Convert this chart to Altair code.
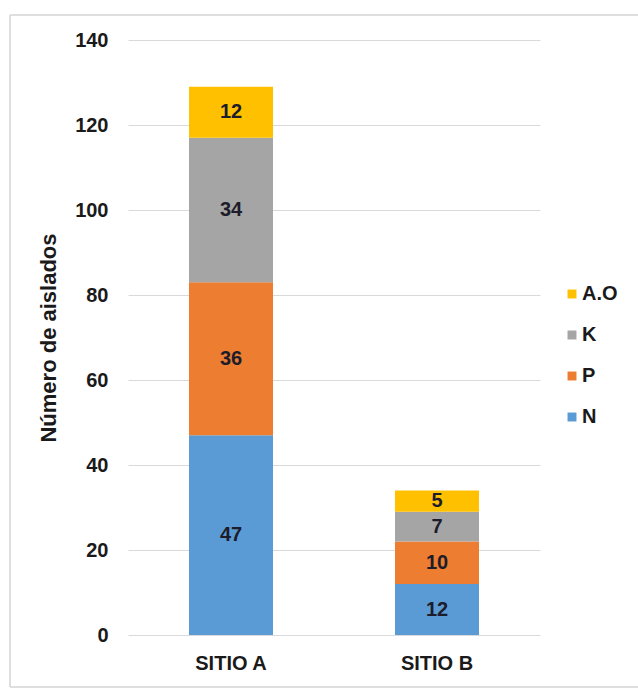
import altair as alt
import pandas as pd

# Isolate counts per site and group
sites = ["SITIO A", "SITIO B"]
groups = ["N", "P", "K", "A.O"]
counts_a = [47, 36, 34, 12]
counts_b = [12, 10, 7, 5]
colors = ["#5B9BD5", "#ED7D31", "#A5A5A5", "#FFC000"]
legend_order = ["A.O", "K", "P", "N"]

rows = []
for site, vals in zip(sites, [counts_a, counts_b]):
    for order, (g, v) in enumerate(zip(groups, vals)):
        rows.append({"sitio": site, "grupo": g, "valor": v, "orden": order})
df = pd.DataFrame(rows)

FONT = "Liberation Sans"
TXT = "#1a1a1a"

x_enc = alt.X(
    "sitio:N",
    sort=sites,
    title=None,
    scale=alt.Scale(paddingInner=0.59, paddingOuter=0.295),
    axis=alt.Axis(
        labelAngle=0, labelFont=FONT, labelFontSize=20, labelFontWeight="bold",
        labelColor=TXT, labelPadding=18, domain=False, ticks=False, grid=False,
    ),
)

color_map = dict(zip(groups, colors))

bars = alt.Chart(df).mark_bar(size=84).encode(
    x=x_enc,
    y=alt.Y(
        "valor:Q",
        stack="zero",
        title="Número de aislados",
        scale=alt.Scale(domain=[0, 140]),
        axis=alt.Axis(
            values=[0, 20, 40, 60, 80, 100, 120, 140],
            labelFont=FONT, labelFontSize=20, labelFontWeight="bold",
            labelColor=TXT, labelPadding=20,
            titleFont=FONT, titleFontSize=22, titleFontWeight="bold",
            titleColor=TXT, titlePadding=14,
            domain=False, ticks=False, grid=True,
            gridColor="#d9d9d9", gridWidth=1.2,
        ),
    ),
    color=alt.Color(
        "grupo:N",
        scale=alt.Scale(domain=legend_order, range=[color_map[g] for g in legend_order]),
        legend=alt.Legend(
            title=None, orient="none", legendX=434, legendY=244,
            symbolType="square", symbolSize=80, symbolStrokeWidth=0,
            labelFont=FONT, labelFontSize=20, labelFontWeight="bold",
            labelColor=TXT, rowPadding=21, labelOffset=0,
        ),
    ),
    order=alt.Order("orden:Q"),
)

labels = alt.Chart(df).mark_text(
    font=FONT, fontSize=20, fontWeight="bold", color="#1c1c2a", baseline="middle",
).encode(
    x=alt.X("sitio:N", sort=sites),
    y=alt.Y("mid:Q"),
    text="valor:Q",
).transform_stack(
    stack="valor", groupby=["sitio"], sort=[alt.SortField("orden")], as_=["y0", "y1"]
).transform_calculate(mid="(datum.y0 + datum.y1) / 2")

# Outer frame: top, left and bottom edges, running to the right edge of the canvas
frame_src = pd.DataFrame({"k": [0]})
frame_style = dict(color="#d4d4d4", strokeWidth=1.5)
frame_top = alt.Chart(frame_src).mark_rule(**frame_style).encode(
    x=alt.value(-118), x2=alt.value(510), y=alt.value(-25)
)
frame_bottom = alt.Chart(frame_src).mark_rule(**frame_style).encode(
    x=alt.value(-118), x2=alt.value(510), y=alt.value(647)
)
frame_left = alt.Chart(frame_src).mark_rule(**frame_style).encode(
    x=alt.value(-118), y=alt.value(-25), y2=alt.value(647)
)

chart = alt.layer(frame_top, frame_bottom, frame_left, bars, labels).properties(
    width=412, height=595,
    background="white",
    autosize=alt.AutoSizeParams(type="none"),
    padding={"left": 128, "top": 40, "right": 98, "bottom": 53},
).configure_view(stroke=None)

chart.save("out.html", embed_options={"renderer": "svg", "actions": False})
